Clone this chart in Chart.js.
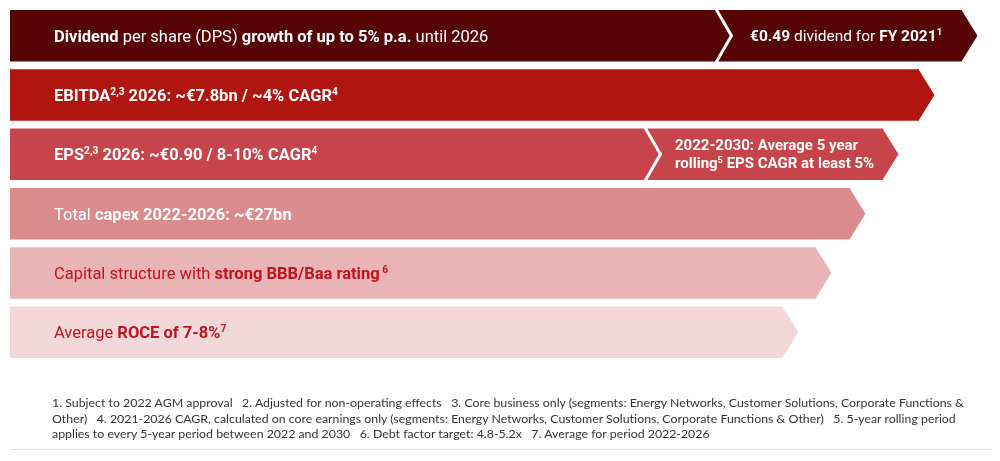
<!DOCTYPE html>
<html>
<head>
<meta charset="utf-8">
<script src="https://cdn.jsdelivr.net/npm/chart.js@4.4.0/dist/chart.umd.min.js"></script>
<style>
  html, body { margin: 0; padding: 0; background: #fff; }
  #wrap { position: relative; width: 1000px; height: 461px; overflow: hidden; }
  #notes {
    position: absolute; left: 52px; top: 395px; width: 940px;
    font: 12.35px "Lato", sans-serif; color: #333; line-height: 15.5px;
    white-space: nowrap;
  }
  #rule { position: absolute; left: 10px; top: 449px; width: 982px; height: 1px; background: #ddd; }
</style>
</head>
<body>
<div id="wrap">
  <canvas id="arrows" width="1000" height="461"></canvas>
  <div id="notes">
    1. Subject to 2022 AGM approval&nbsp;&nbsp; 2. Adjusted for non-operating effects&nbsp;&nbsp; 3. Core business only (segments: Energy Networks, Customer Solutions, Corporate Functions &amp;<br>
    Other)&nbsp;&nbsp; 4. 2021-2026 CAGR, calculated on core earnings only (segments: Energy Networks, Customer Solutions, Corporate Functions &amp; Other)&nbsp;&nbsp; 5. 5-year rolling period<br>
    applies to every 5-year period between 2022 and 2030&nbsp;&nbsp; 6. Debt factor target: 4.8-5.2x&nbsp;&nbsp; 7. Average for period 2022-2026
  </div>
  <div id="rule"></div>
</div>
<script>
// rows of the target arrow, top to bottom
const categories = ["Dividend", "EBITDA", "EPS", "Capex", "Capital structure", "ROCE"];
// length of the main arrow of every row
const mainEnds = [704, 909, 633, 840, 806, 773];
// second arrow that continues some rows (null = none)
const extraEnds = [952, null, 873, null, null, null];
const rowColors = ["#560404", "#b0150f", "#c6444a", "#db8b8c", "#e8b4b5", "#f3d8da"];
const textColors = ["#ffffff", "#ffffff", "#ffffff", "#ffffff", "#c0141e", "#c0141e"];

// label runs: [text, bold, superscript]
const mainLabels = [
  [["Dividend", 1], [" per share (DPS) ", 0], ["growth of up to 5% p.a.", 1], [" until 2026", 0]],
  [["EBITDA", 1], ["2,3", 1, 1], [" 2026: ~€7.8bn / ~4% CAGR", 1], ["4", 1, 1]],
  [["EPS", 1], ["2,3", 1, 1], [" 2026: ~€0.90 / 8-10% CAGR", 1], ["4", 1, 1]],
  [["Total ", 0], ["capex 2022-2026: ~€27bn", 1]],
  [["Capital structure with ", 0], ["strong BBB/Baa rating", 1], [" 6", 1, 1]],
  [["Average ", 0], ["ROCE of 7-8%", 1], ["7", 1, 1]]
];
const extraLabels = [
  [[["€0.49", 1], [" dividend for ", 0], ["FY 2021", 1], ["1", 1, 1]]],
  null,
  [[["2022-2030: Average 5 year", 1]], [["rolling", 1], ["5", 1, 1], [" EPS CAGR at least 5%", 1]]],
  null, null, null
];

const FONT = 'Roboto, sans-serif';

function drawRuns(ctx, runs, x, y, size, color) {
  ctx.fillStyle = color;
  ctx.textBaseline = "alphabetic";
  ctx.textAlign = "left";
  for (const [t, b, sup] of runs) {
    const s = sup ? size * 0.62 : size;
    ctx.font = (b ? "bold " : "") + s + "px " + FONT;
    ctx.fillText(t, x, sup ? y - size * 0.38 : y);
    x += ctx.measureText(t).width;
  }
}

const arrowPlugin = {
  id: "arrowPlugin",
  afterDatasetsDraw(chart) {
    const ctx = chart.ctx;
    const mainMeta = chart.getDatasetMeta(0);
    const extraMeta = chart.getDatasetMeta(1);
    ctx.save();
    mainMeta.data.forEach((bar, i) => {
      const top = bar.y - bar.height / 2, bot = bar.y + bar.height / 2;
      const depth = bar.height * 0.3;
      const ext = extraMeta.data[i];
      const hasExt = extraEnds[i] !== null;
      // tip of the main arrow
      ctx.fillStyle = rowColors[i];
      ctx.beginPath();
      ctx.moveTo(bar.x - 0.5, top);
      ctx.lineTo(bar.x + depth, bar.y);
      ctx.lineTo(bar.x - 0.5, bot);
      ctx.closePath();
      ctx.fill();
      if (hasExt) {
        ctx.beginPath();
        ctx.moveTo(ext.x - 0.5, top);
        ctx.lineTo(ext.x + depth, bar.y);
        ctx.lineTo(ext.x - 0.5, bot);
        ctx.closePath();
        ctx.fill();
        // white chevron between both arrows
        ctx.strokeStyle = "#ffffff";
        ctx.lineWidth = 3;
        ctx.beginPath();
        ctx.moveTo(bar.x + 2, top - 1);
        ctx.lineTo(bar.x + depth + 2, bar.y);
        ctx.lineTo(bar.x + 2, bot + 1);
        ctx.stroke();
      }
      const size = 16.5;
      drawRuns(ctx, mainLabels[i], bar.base + 44, bar.y + 6, size, textColors[i]);
      if (hasExt) {
        const lines = extraLabels[i];
        const es = lines.length > 1 ? 15 : 15.5;
        const lh = 18;
        const y0 = bar.y + 5 - (lines.length - 1) * lh / 2;
        const dx = lines.length > 1 ? 32 : 36;
        lines.forEach((ln, k) => drawRuns(ctx, ln, bar.x + dx, y0 + k * lh, es, textColors[i]));
      }
    });
    ctx.restore();
  }
};

new Chart(document.getElementById("arrows").getContext("2d"), {
  type: "bar",
  data: {
    labels: categories,
    datasets: [
      {
        label: "main",
        data: mainEnds.map(v => [0, v]),
        backgroundColor: rowColors,
        borderWidth: 0,
        grouped: false,
        barPercentage: 0.868,
        categoryPercentage: 1
      },
      {
        label: "extra",
        data: extraEnds.map((v, i) => (v === null ? null : [mainEnds[i], v])),
        backgroundColor: rowColors,
        borderWidth: 0,
        grouped: false,
        barPercentage: 0.868,
        categoryPercentage: 1
      }
    ]
  },
  options: {
    indexAxis: "y",
    responsive: false,
    animation: false,
    layout: { padding: { left: 10, right: 0, top: 6, bottom: 99 } },
    plugins: { legend: { display: false }, tooltip: { enabled: false } },
    scales: {
      x: { display: false, min: 0, max: 990 },
      y: { display: false }
    }
  },
  plugins: [arrowPlugin]
});
</script>
</body>
</html>
